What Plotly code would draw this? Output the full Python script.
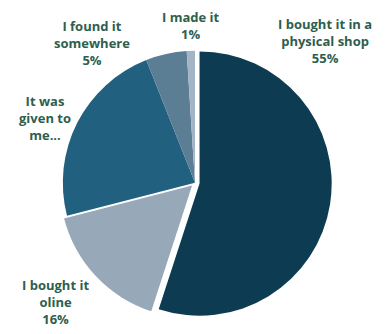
import plotly.graph_objects as go

# How the item was obtained (share of responses, %)
labels = ["I bought it in a physical shop", "I bought it oline", "It was given to me...",
          "I found it somewhere", "I made it"]
values = [55, 16, 23, 5, 1]
label_lines = ["I bought it in a<br>physical shop", "I bought it<br>oline", "It was<br>given to<br>me...",
               "I found it<br>somewhere", "I made it"]
show_pct = [True, True, False, True, True]
colors = ["#0d3c52", "#97a9b8", "#22607f", "#5c7e95", "#a3b4c4"]
pulls = [0.035, 0.03, 0, 0, 0]

# label anchor positions in paper coordinates
label_x = [0.838, 0.142, 0.116, 0.237, 0.492]
label_y = [0.877, 0.095, 0.648, 0.871, 0.924]

fig = go.Figure(go.Pie(
    labels=labels,
    values=values,
    sort=False,
    direction="clockwise",
    rotation=0,
    pull=pulls,
    marker=dict(colors=colors, line=dict(color="white", width=0)),
    textinfo="none",
    hoverinfo="label+percent",
    domain=dict(x=[0.15, 0.855], y=[0.04, 0.865]),
))

total = sum(values)
for txt, v, pct, x, y in zip(label_lines, values, show_pct, label_x, label_y):
    t = txt + (f"<br>{round(100 * v / total)}%" if pct else "")
    fig.add_annotation(
        x=x, y=y, xref="paper", yref="paper", text=t, showarrow=False,
        xanchor="center", yanchor="middle", align="center",
        font=dict(family="Open Sans", size=13, color="#2e5e4e", weight="bold"),
    )

fig.update_layout(
    width=388, height=334,
    margin=dict(l=0, r=0, t=0, b=0),
    showlegend=False,
    paper_bgcolor="white",
    plot_bgcolor="white",
)

fig.write_html("out.html")
